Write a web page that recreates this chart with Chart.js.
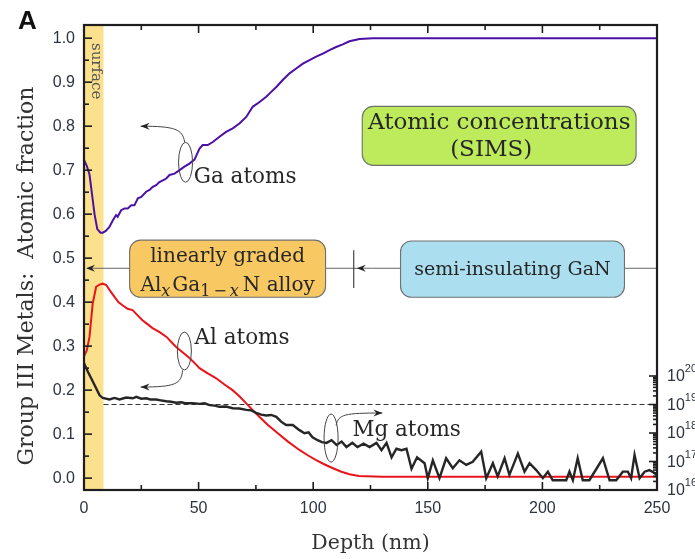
<!DOCTYPE html>
<html>
<head>
<meta charset="utf-8">
<script src="https://cdn.jsdelivr.net/npm/chart.js@4.4.1/dist/chart.umd.min.js"></script>
<style>
  html, body { margin: 0; padding: 0; background: #fff; }
  canvas { display: block; }
</style>
</head>
<body>
<canvas id="sims" width="695" height="559"></canvas>
<script>
// axis ticks
const xTicks = [0, 50, 100, 150, 200, 250];
const yTicks = [0, 0.1, 0.2, 0.3, 0.4, 0.5, 0.6, 0.7, 0.8, 0.9, 1.0];
const mgDecades = [16, 17, 18, 19, 20];

// layer boundaries (nm) and Mg reference level (cm^-3)
const surfaceDepth = 8.5;
const gradedEnd = 117.7;
const mgRef = 1e19;

// Ga fraction vs depth
const gaDepth = [0, 1.2, 2.4, 3.5, 4.6, 5.8, 7.2, 8.2, 9.5, 11.1, 12.6, 14.0, 14.7, 16.2, 17.7, 19.1, 20.6, 22.0,
  23.5, 25.0, 27.1, 28.6, 30.0, 31.5, 32.9, 34.4, 35.9, 37.3, 39.5, 41.7, 43.8, 46.0, 48.2, 50.4, 51.8, 54.0,
  56.2, 59.1, 62.0, 64.9, 67.8, 70.8, 73.6, 76.6, 79.5, 80.9, 83.9, 86.7, 89.7, 92.6, 95.5, 98.4, 101.3,
  104.2, 107.1, 110.0, 112.9, 115.8, 120.2, 126, 250];
const gaFrac = [0.723, 0.71, 0.69, 0.645, 0.60, 0.566, 0.558, 0.558, 0.562, 0.571, 0.586, 0.598, 0.594, 0.609,
  0.613, 0.613, 0.620, 0.620, 0.636, 0.639, 0.651, 0.655, 0.662, 0.666, 0.673, 0.677, 0.681, 0.689, 0.692,
  0.700, 0.708, 0.715, 0.724, 0.749, 0.757, 0.757, 0.764, 0.776, 0.787, 0.795, 0.806, 0.821, 0.844, 0.855,
  0.867, 0.874, 0.889, 0.905, 0.920, 0.931, 0.942, 0.950, 0.958, 0.965, 0.973, 0.980, 0.986, 0.993, 0.998,
  1.0, 1.0];

// Al fraction vs depth
const alDepth = [0, 1.2, 2.4, 3.8, 5.3, 6.8, 8.2, 9.7, 11.5, 13.3, 15, 16.8, 19, 21.2, 23.4, 25.5, 27.7, 29.9,
  33, 36, 38, 40.2, 43, 46, 48.2, 50.4, 54, 57.7, 61, 64.8, 67.8, 70.8, 73.7, 76.6, 80, 83.9, 89, 94, 97.6,
  101.3, 105, 108.4, 112, 115.8, 120, 130, 250];
const alFrac = [0.277, 0.29, 0.321, 0.397, 0.435, 0.44, 0.442, 0.439, 0.425, 0.412, 0.400, 0.393, 0.385, 0.382,
  0.37, 0.359, 0.35, 0.341, 0.332, 0.321, 0.31, 0.298, 0.286, 0.273, 0.262, 0.25, 0.238, 0.227, 0.214, 0.2,
  0.186, 0.17, 0.154, 0.139, 0.122, 0.105, 0.083, 0.064, 0.052, 0.041, 0.031, 0.023, 0.015, 0.009, 0.005,
  0.003, 0.003];

// Mg concentration (cm^-3) vs depth
const mgDepth = [0, 1.7, 4.6, 6.8, 8.2, 11.1, 13.3, 15.5, 18.4, 21.3, 22.8, 25, 27.1, 29, 31.5, 33.5, 35.9, 38,
  40.2, 42.4, 44.6, 47.5, 50.4, 52.6, 54.8, 57, 59.1, 62, 64.9, 67.8, 70.8, 73, 75.1, 77.3, 79.5, 81.7, 83.9,
  86, 88.2, 91.1, 94, 96.2, 98, 99.7, 101.9, 103.8, 105.8, 108, 110.2, 112.4, 114.5, 117.1, 119.3, 122, 124.6,
  127.6, 129.8, 132, 134.2, 136.3, 138.5, 140.7, 142.9, 145.3, 148.6, 150, 152.2, 155.1, 158, 160.9, 163.8,
  166.8, 169.6, 173.3, 175.5, 178.4, 180.5, 183.5, 185.6, 189.3, 192.2, 194.4, 197.3, 200.2, 202.4, 204.5,
  210.4, 211.8, 213.3, 215.4, 217.6, 220.5, 226.4, 229.3, 232.2, 235.1, 237.3, 238.7, 240.2, 242.4, 244.6,
  246.7, 248.9, 250];
const mgConc = [2.8e20, 1.4e20, 4.8e19, 2.1e19, 1.7e19, 1.5e19, 1.7e19, 1.5e19, 1.75e19, 1.65e19, 1.85e19, 1.6e19,
  1.65e19, 1.5e19, 1.5e19, 1.4e19, 1.3e19, 1.25e19, 1.15e19, 1.2e19, 1.1e19, 1.12e19, 1.05e19, 1.1e19, 9.5e18,
  9.1e18, 8.3e18, 8.5e18, 7.4e18, 7.2e18, 6.5e18, 6.2e18, 5.1e18, 4.4e18, 4.1e18, 4.3e18, 3.7e18, 2.5e18,
  1.9e18, 1.9e18, 1.26e18, 9.8e17, 1.05e18, 7.1e17, 5.6e17, 4.8e17, 4.5e17, 5.6e17, 3.8e17, 5e17, 3.2e17,
  4.5e17, 3.2e17, 4.2e17, 3.2e17, 4.5e17, 2.5e17, 4.5e17, 1.4e17, 2.8e17, 2.5e17, 2.8e17, 5.6e16, 1.4e17,
  8.7e16, 2.6e16, 1.1e17, 2.6e16, 1.3e17, 5.8e16, 1.1e17, 7.6e16, 9.8e16, 2.2e17, 2.6e16, 8.7e16, 3e16,
  1.3e17, 3.4e16, 1.9e17, 4.4e16, 8.7e16, 5e16, 2.6e16, 4.4e16, 2.2e16, 2.2e16, 4.4e16, 2.2e16, 1.3e17,
  2.2e16, 2.2e16, 1.3e17, 2.2e16, 2.2e16, 4.4e16, 4.4e16, 2.6e16, 1.7e17, 2.6e16, 4.4e16, 5e16, 4e16, 3.2e16];

const SERIF = '"DejaVu Serif", serif';
const SANS = '"Liberation Sans", Arial, sans-serif';
const INK = '#262626';

const toPoints = (xs, ys) => xs.map((d, i) => ({x: d, y: ys[i]}));

function arrowHead(ctx, x, y, dir) {
  ctx.beginPath();
  ctx.moveTo(x, y);
  ctx.lineTo(x - dir * 9, y - 3.5);
  ctx.lineTo(x - dir * 6, y);
  ctx.lineTo(x - dir * 9, y + 3.5);
  ctx.closePath();
  ctx.fill();
}

// text made of pieces with different fonts / baseline shifts, centred on cx
function drawRuns(ctx, runs, cx, baseline) {
  let w = 0;
  runs.forEach(r => { ctx.font = r[1]; w += ctx.measureText(r[0]).width + (r[3] || 0); });
  let xx = cx - w / 2;
  ctx.textAlign = 'left';
  runs.forEach(r => {
    ctx.font = r[1];
    ctx.fillText(r[0], xx, baseline + r[2]);
    xx += ctx.measureText(r[0]).width + (r[3] || 0);
  });
}

function roundBox(ctx, x0, y0, x1, y1, fill) {
  ctx.beginPath();
  ctx.roundRect(x0, y0, x1 - x0, y1 - y0, 11);
  ctx.fillStyle = fill;
  ctx.fill();
  ctx.lineWidth = 1.1;
  ctx.strokeStyle = '#707070';
  ctx.stroke();
}

const surfaceBand = {
  id: 'surfaceBand',
  beforeDatasetsDraw(chart) {
    const {ctx, chartArea: a, scales: {x}} = chart;
    const x0 = x.getPixelForValue(0), x1 = x.getPixelForValue(surfaceDepth);
    ctx.save();
    ctx.fillStyle = '#fbe08e';
    ctx.fillRect(x0, a.top, x1 - x0, a.bottom - a.top);
    ctx.translate((x0 + x1) / 2 + 2, a.top + 18);
    ctx.rotate(Math.PI / 2);
    ctx.font = '15px ' + SERIF;
    ctx.fillStyle = '#555';
    ctx.textAlign = 'left';
    ctx.textBaseline = 'middle';
    ctx.fillText('surface', 0, 0);
    ctx.restore();
  }
};

const decorations = {
  id: 'decorations',
  afterDatasetsDraw(chart) {
    const {ctx, chartArea: a, scales: {x, y, y2}} = chart;
    const P = (d, v) => [x.getPixelForValue(d), y.getPixelForValue(v)];
    ctx.save();

    // layer arrow across the plot
    const ay = y.getPixelForValue(0.477);
    ctx.strokeStyle = '#666';
    ctx.lineWidth = 1;
    ctx.beginPath();
    ctx.moveTo(a.left + 4, ay);
    ctx.lineTo(a.right, ay);
    ctx.stroke();
    ctx.fillStyle = '#222';
    arrowHead(ctx, a.left + 2, ay, -1);
    const gx = x.getPixelForValue(gradedEnd);
    arrowHead(ctx, gx + 3, ay, -1);
    ctx.strokeStyle = '#222';
    ctx.beginPath();
    ctx.moveTo(gx, y.getPixelForValue(0.518));
    ctx.lineTo(gx, y.getPixelForValue(0.432));
    ctx.stroke();

    // labelled boxes
    let b0 = P(19.9, 0.541), b1 = P(105.4, 0.411);
    roundBox(ctx, b0[0], b0[1], b1[0], b1[1], '#f8c862');
    ctx.fillStyle = INK;
    ctx.textAlign = 'center';
    ctx.font = '20px ' + SERIF;
    ctx.fillText('linearly graded', (b0[0] + b1[0]) / 2, 262);
    const main = '20px ' + SERIF, sub = '16px ' + SERIF, subIt = 'italic 16px ' + SERIF;
    drawRuns(ctx, [['Al', main, 0], ['x', subIt, 5, 2], ['Ga', main, 0], ['1', sub, 5, 3], ['\u2212', sub, 5, 3],
      ['x', subIt, 5, 4], ['N alloy', main, 0]], (b0[0] + b1[0]) / 2, 291);

    b0 = P(138.1, 0.539); b1 = P(235.8, 0.411);
    roundBox(ctx, b0[0], b0[1], b1[0], b1[1], '#abdff0');
    ctx.fillStyle = INK;
    ctx.textAlign = 'center';
    ctx.font = '19px ' + SERIF;
    ctx.fillText('semi-insulating GaN', (b0[0] + b1[0]) / 2, 275);

    b0 = P(121.4, 0.845); b1 = P(240.9, 0.711);
    roundBox(ctx, b0[0], b0[1], b1[0], b1[1], '#bdeb5c');
    ctx.fillStyle = INK;
    ctx.textAlign = 'center';
    ctx.font = '23px ' + SERIF;
    ctx.fillText('Atomic concentrations', (b0[0] + b1[0]) / 2, 129);
    ctx.fillText('(SIMS)', (b0[0] + b1[0]) / 2 - 8, 156);

    // curve callouts: ellipse, bent arrow, label
    ctx.strokeStyle = '#444';
    ctx.fillStyle = '#222';
    ctx.lineWidth = 1;
    const callout = (c, ry, path, dir, label, lp) => {
      ctx.beginPath();
      ctx.ellipse(c[0], c[1], 7, ry, 0, 0, Math.PI * 2);
      ctx.stroke();
      ctx.beginPath();
      ctx.moveTo(path[0][0], path[0][1]);
      ctx.bezierCurveTo(path[1][0], path[1][1], path[2][0], path[2][1], path[3][0], path[3][1]);
      ctx.stroke();
      arrowHead(ctx, path[3][0], path[3][1], dir);
      ctx.fillStyle = INK;
      ctx.font = '21.5px ' + SERIF;
      ctx.textAlign = 'left';
      ctx.fillText(label, lp[0], lp[1]);
      ctx.fillStyle = '#222';
    };
    callout(P(44.3, 0.718), 20, [P(43.9, 0.764), P(43.0, 0.793), P(39.9, 0.800), P(24.7, 0.800)], -1,
      'Ga atoms', P(47.9, 0.67));
    callout(P(43.8, 0.289), 19, [P(43.0, 0.245), P(42.5, 0.214), P(39.9, 0.207), P(24.7, 0.207)], -1,
      'Al atoms', P(48.2, 0.306));
    callout(P(107.8, 0.091), 24, [P(110.0, 0.12), P(111.0, 0.145), P(113.5, 0.148), P(130.2, 0.148)], 1,
      'Mg atoms', P(117.1, 0.0955));

    // inward tick marks
    ctx.strokeStyle = '#1e1e1e';
    ctx.lineWidth = 1.6;
    const seg = (x0, y0, x1, y1) => { ctx.beginPath(); ctx.moveTo(x0, y0); ctx.lineTo(x1, y1); ctx.stroke(); };
    for (let d = 0; d <= 250; d += 25) {
      const px = x.getPixelForValue(d), len = d % 50 === 0 ? 8 : 5;
      seg(px, a.bottom, px, a.bottom - len);
      seg(px, a.top, px, a.top + len);
    }
    for (let i = 0; i <= 20; i++) {
      const py = y.getPixelForValue(i * 0.05);
      seg(a.left, py, a.left + (i % 2 === 0 ? 8 : 5), py);
    }
    mgDecades.forEach((e, j) => {
      const last = j === mgDecades.length - 1;
      for (let k = 1; k <= (last ? 1 : 9); k++) {
        const py = y2.getPixelForValue(k * Math.pow(10, e));
        seg(a.right, py, a.right - (k === 1 ? 8 : 4), py);
      }
    });

    // frame
    ctx.lineWidth = 2.2;
    ctx.strokeRect(a.left, a.top, a.right - a.left, a.bottom - a.top);

    // Mg axis labels 10^n
    ctx.fillStyle = '#2d3340';
    ctx.textAlign = 'left';
    ctx.textBaseline = 'middle';
    mgDecades.forEach(e => {
      const py = y2.getPixelForValue(Math.pow(10, e));
      ctx.font = '16px ' + SANS;
      ctx.fillText('10', a.right + 10, py + 1);
      const w = ctx.measureText('10').width;
      ctx.font = '11px ' + SANS;
      ctx.fillText(String(e), a.right + 10 + w, py - 7);
    });

    // axis titles
    ctx.fillStyle = '#333';
    ctx.textBaseline = 'alphabetic';
    ctx.textAlign = 'center';
    ctx.font = '20.5px ' + SERIF;
    ctx.fillText('Depth (nm)', (a.left + a.right) / 2 - 0, 549);
    ctx.translate(33, 276);
    ctx.rotate(-Math.PI / 2);
    ctx.font = '22px ' + SERIF;
    ctx.fillText('Group III Metals:  Atomic fraction', 0, 0);
    ctx.restore();

    // panel letter
    ctx.save();
    ctx.fillStyle = '#111';
    ctx.font = 'bold 26px ' + SANS;
    ctx.textAlign = 'left';
    ctx.fillText('A', 18, 29);
    ctx.restore();
  }
};

const tickFont = {family: 'Liberation Sans, Arial, sans-serif', size: 16};

new Chart(document.getElementById('sims'), {
  type: 'line',
  data: {
    datasets: [
      {data: toPoints(mgDepth, mgConc), yAxisID: 'y2', borderColor: '#262626', borderWidth: 2.4, order: 0},
      {data: toPoints(alDepth, alFrac), yAxisID: 'y', borderColor: '#e8141a', borderWidth: 2, order: 1},
      {data: toPoints(gaDepth, gaFrac), yAxisID: 'y', borderColor: '#4b10a6', borderWidth: 2, order: 2},
      {data: [{x: surfaceDepth, y: mgRef}, {x: 250, y: mgRef}], yAxisID: 'y2', borderColor: '#333',
        borderWidth: 1, borderDash: [5, 3], order: 3}
    ]
  },
  options: {
    responsive: false,
    animation: false,
    layout: {padding: {top: 25, left: 0, right: 0, bottom: 0}},
    plugins: {legend: {display: false}, tooltip: {enabled: false}},
    elements: {point: {radius: 0}, line: {tension: 0, fill: false}},
    scales: {
      x: {
        type: 'linear', min: 0, max: 250,
        grid: {display: false, drawTicks: false}, border: {display: false},
        ticks: {font: tickFont, color: '#2d3340', padding: 9, maxRotation: 0},
        afterBuildTicks: s => { s.ticks = xTicks.map(v => ({value: v})); },
        afterFit: s => { s.height = 69; }
      },
      y: {
        type: 'linear', position: 'left', min: -0.027, max: 1.03,
        grid: {display: false, drawTicks: false}, border: {display: false},
        ticks: {font: tickFont, color: '#2d3340', padding: 9, callback: v => v.toFixed(1)},
        afterBuildTicks: s => { s.ticks = yTicks.map(v => ({value: v})); },
        afterFit: s => { s.width = 84; }
      },
      // Mg concentration axis: the decades 1e16..1e20 sit in the bottom strip of the frame
      y2: {
        type: 'logarithmic', position: 'right', min: 1e16, max: 2.07e32,
        grid: {display: false, drawTicks: false}, border: {display: false},
        ticks: {display: false},
        afterFit: s => { s.width = 38; }
      }
    }
  },
  plugins: [surfaceBand, decorations]
});
</script>
</body>
</html>
